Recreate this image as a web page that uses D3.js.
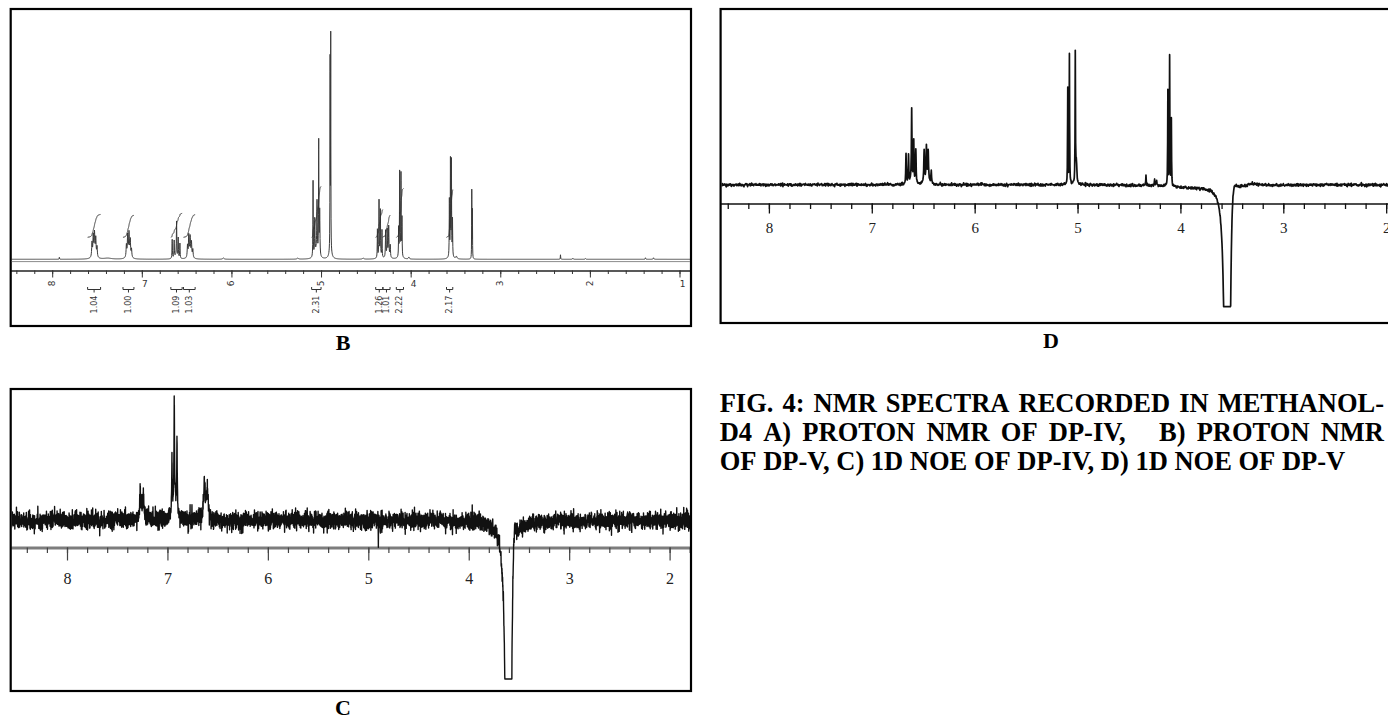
<!DOCTYPE html>
<html>
<head>
<meta charset="utf-8">
<script src="https://cdnjs.cloudflare.com/ajax/libs/d3/7.8.5/d3.min.js"></script>
<style>
  html, body { margin: 0; padding: 0; background: #fff; }
  svg { display: block; }
</style>
</head>
<body>
<svg id="fig" width="1388" height="719"></svg>
<script>
// ---------------------------------------------------------------
// Peak lists: [chemical shift (ppm), intensity, half-width (ppm)]
// ---------------------------------------------------------------

// B) 1H NMR of DP-V (methanol-d4)
const peaksB = [
  [7.92, 2, 0.002],
  [7.556, 14, 0.004], [7.542, 19, 0.004], [7.528, 20, 0.004], [7.514, 17, 0.004], [7.50, 10, 0.004],
  [7.53, 6, 0.02], [7.38, 1, 0.05],
  [7.172, 12, 0.004], [7.158, 20, 0.004], [7.143, 21, 0.004], [7.129, 16, 0.004], [7.115, 8, 0.004],
  [7.145, 5, 0.02],
  [6.661, 19, 0.0025], [6.639, 17, 0.0025], [6.612, 35, 0.0025], [6.594, 20, 0.0025], [6.575, 15, 0.0025],
  [6.62, 3, 0.02],
  [6.49, 12, 0.004], [6.476, 21, 0.004], [6.461, 18, 0.004], [6.446, 14, 0.004], [6.431, 8, 0.004],
  [6.46, 4, 0.02],
  [6.09, 1.2, 0.01], [5.26, 1, 0.01],
  [5.089, 76, 0.002], [5.07, 36, 0.003], [5.045, 50, 0.003], [5.026, 113, 0.002], [5.015, 45, 0.003],
  [5.05, 8, 0.02],
  [4.899, 188, 0.0015], [4.892, 212, 0.0015], [4.895, 8, 0.015],
  [4.53, 1, 0.01],
  [4.371, 28, 0.002], [4.353, 54, 0.002], [4.338, 44, 0.002], [4.32, 27, 0.002], [4.345, 6, 0.015],
  [4.279, 27, 0.003], [4.262, 26, 0.003], [4.245, 28, 0.003], [4.228, 12, 0.003], [4.25, 5, 0.015],
  [4.134, 28, 0.002], [4.123, 82, 0.002], [4.108, 80, 0.002], [4.097, 38, 0.002], [4.115, 6, 0.015],
  [4.02, 2, 0.006],
  [3.568, 56, 0.002], [3.556, 93, 0.002], [3.545, 92, 0.002], [3.533, 36, 0.002], [3.55, 6, 0.015],
  [3.49, 2.5, 0.008],
  [3.318, 68, 0.0015], [3.311, 48, 0.0015],
  [2.328, 4.5, 0.002], [2.19, 1, 0.004], [2.05, 0.8, 0.004],
  [1.38, 1.5, 0.003], [1.29, 1.5, 0.004]
];

// integration regions of B: [from ppm, to ppm]
const integralRangesB = [
  [7.605, 7.46], [7.21, 7.088], [6.676, 6.55], [6.535, 6.405], [5.105, 5.0],
  [4.39, 4.31], [4.31, 4.23], [4.16, 4.08], [3.60, 3.53]
];
const integralValuesB = [1.04, 1.00, 1.09, 1.03, 2.31, 1.26, 1.01, 2.22, 2.17];

// C) 1D NOE of DP-IV
const peaksC = [
  [7.272, 24, 0.004], [7.24, 14, 0.004], [7.255, 14, 0.025],
  [6.955, 50, 0.003], [6.932, 100, 0.003], [6.905, 72, 0.003], [6.93, 20, 0.025],
  [6.632, 26, 0.008], [6.602, 22, 0.008], [6.617, 12, 0.025],
  [4.90, -30, 0.001],
  [3.605, -6000, 0.006], [3.55, 50, 0.025]
];

// D) 1D NOE of DP-V
const peaksD = [
  [6.667, 30, 0.003], [6.643, 28, 0.003], [6.612, 72, 0.003], [6.592, 42, 0.003], [6.572, 34, 0.003],
  [6.62, 4, 0.02],
  [6.491, 33, 0.004], [6.469, 34, 0.004], [6.452, 30, 0.004], [6.422, 12, 0.004], [6.46, 4, 0.02],
  [5.095, 95, 0.002], [5.079, 130, 0.002], [5.022, 128, 0.002], [5.012, 22, 0.006],
  [4.335, 10, 0.003], [4.25, 5, 0.004], [4.232, 5, 0.004],
  [4.122, 95, 0.002], [4.105, 130, 0.002], [4.088, 66, 0.002],
  [3.9, -2.5, 0.2],
  [3.544, -5000, 0.006], [3.50, 50, 0.04], [3.30, 2.5, 0.05]
];

// axis tick values (ppm)
const majorTicksB = [8, 7, 6, 5, 4, 3, 2, 1];
const majorTicksC = [8, 7, 6, 5, 4, 3, 2];
const majorTicksD = [8, 7, 6, 5, 4, 3, 2];
const uprightLabelsB = ["7", "4", "1"];

const panelLetters = ["B", "D", "C"];
const captionLines = [
  "FIG. 4: NMR SPECTRA RECORDED IN METHANOL-",
  "D4 A) PROTON NMR OF DP-IV,   B) PROTON NMR",
  "OF DP-V, C) 1D NOE OF DP-IV, D) 1D NOE OF DP-V"
];

// ---------------------------------------------------------------
// helpers
// ---------------------------------------------------------------
const svg = d3.select("#fig");
const defs = svg.append("defs");

function mulberry32(a) {
  return function () {
    a |= 0; a = a + 0x6D2B79F5 | 0;
    let t = Math.imul(a ^ a >>> 15, 1 | a);
    t = t + Math.imul(t ^ t >>> 7, 61 | t) ^ t;
    return ((t ^ t >>> 14) >>> 0) / 4294967296;
  };
}

function makeGauss(seed) {
  const r = mulberry32(seed);
  return () => {
    const u = Math.max(r(), 1e-9), v = r();
    return Math.sqrt(-2 * Math.log(u)) * Math.cos(2 * Math.PI * v);
  };
}

function lineshape(peaks, p) {
  let s = 0;
  for (const [c, h, w] of peaks) {
    const d = (p - c) / w;
    s += h / (1 + d * d);
  }
  return s;
}

function drawPanel(cfg) {
  const g = svg.append("g");
  const b = cfg.box;

  // ppm scale, calibrated on two reference ticks and stretched to the frame edges
  const ref = d3.scaleLinear().domain(cfg.ppmRef).range(cfg.pxRef);
  const x = d3.scaleLinear()
    .domain([ref.invert(b.x0), ref.invert(b.x1)])
    .range([b.x0, b.x1]);
  const y = d3.scaleLinear().domain([0, 100]).range([cfg.baseY, cfg.baseY - 100]);

  const clipId = "clip" + cfg.id;
  defs.append("clipPath").attr("id", clipId)
    .append("rect")
    .attr("x", b.x0 + 1).attr("y", b.y0 + 1)
    .attr("width", b.x1 - b.x0 - 2).attr("height", b.y1 - b.y0 - 2);

  // sample points: uniform in pixels plus every peak centre
  const [pL, pR] = x.domain();
  const n = Math.round((b.x1 - b.x0) * cfg.perPx);
  const ppms = d3.range(n + 1).map(i => pL + (pR - pL) * i / n);
  cfg.peaks.forEach(([c]) => { if (c < pL && c > pR) ppms.push(c); });
  ppms.sort((a, c) => c - a);

  const gauss = makeGauss(cfg.seed);
  const pts = ppms.map(p => {
    let v = lineshape(cfg.peaks, p) + (cfg.noise ? gauss() * cfg.noise : 0);
    if (cfg.floor !== undefined) v = Math.max(v, cfg.floor);
    return [p, v];
  });

  // axis
  const axG = g.append("g").attr("transform", `translate(0,${cfg.axisY})`);
  const minor = d3.range(Math.floor(pL * 5) / 5, pR, -0.2).filter(v => v <= pL && v >= pR);
  axG.append("g")
    .call(d3.axisBottom(x).tickValues(minor).tickSize(cfg.minorLen).tickSizeOuter(0).tickFormat(""))
    .call(s => s.select(".domain").attr("stroke", cfg.axisColor).attr("stroke-width", cfg.axisWidth))
    .call(s => s.selectAll(".tick line").attr("stroke", cfg.tickColor).attr("stroke-width", cfg.tickWidth));
  const majG = axG.append("g")
    .call(d3.axisBottom(x).tickValues(cfg.majorTicks).tickSize(cfg.majorLen).tickSizeOuter(0)
      .tickFormat(cfg.rotatedLabels ? "" : d3.format("d")))
    .call(s => s.select(".domain").remove())
    .call(s => s.selectAll(".tick line").attr("stroke", cfg.tickColor).attr("stroke-width", cfg.tickWidth));
  if (!cfg.rotatedLabels) {
    majG.selectAll(".tick text")
      .attr("y", cfg.labelY - cfg.axisY).attr("dy", "0.36em")
      .attr("font-family", cfg.labelFont).attr("font-size", cfg.labelSize)
      .attr("fill", "#222");
  }

  // spectrum trace
  g.append("path")
    .datum(pts)
    .attr("clip-path", `url(#${clipId})`)
    .attr("fill", "none")
    .attr("stroke", cfg.traceColor)
    .attr("stroke-width", cfg.traceWidth)
    .attr("stroke-linejoin", "round")
    .attr("d", d3.line().x(d => x(d[0])).y(d => y(d[1])));

  // frame
  g.append("rect")
    .attr("x", b.x0).attr("y", b.y0)
    .attr("width", b.x1 - b.x0).attr("height", b.y1 - b.y0)
    .attr("fill", "none").attr("stroke", "#000").attr("stroke-width", 2.2);

  return { g, x, y };
}

// ---------------------------------------------------------------
// B: proton spectrum with integrals
// ---------------------------------------------------------------
const B = drawPanel({
  id: "B", box: { x0: 10.7, x1: 691, y0: 9, y1: 326 },
  ppmRef: [8, 1], pxRef: [52.2, 679.5], baseY: 259.3,
  peaks: peaksB, perPx: 5, seed: 11, noise: 0,
  axisY: 270.5, minorLen: 3.5, majorLen: 7, majorTicks: majorTicksB,
  axisColor: "#222", axisWidth: 1.3, tickColor: "#333", tickWidth: 1,
  rotatedLabels: true, traceColor: "#3a3a3a", traceWidth: 1
});

// reference line just under the baseline
B.g.append("line")
  .attr("x1", 11.8).attr("x2", 690).attr("y1", 261.6).attr("y2", 261.6)
  .attr("stroke", "#8c8c8c").attr("stroke-width", 1);

// ppm labels
B.g.selectAll("text.ppm")
  .data(majorTicksB)
  .join("text")
  .attr("class", "ppm")
  .attr("font-family", "DejaVu Sans").attr("font-size", 9).attr("fill", "#333")
  .attr("text-anchor", "middle").attr("dominant-baseline", "central")
  .attr("transform", d => uprightLabelsB.includes(String(d))
    ? `translate(${B.x(d) + 3},${284})`
    : `translate(${B.x(d)},${283.5}) rotate(-90)`)
  .text(d => String(d));

// integral curves, brackets and values
const integralBase = 22;     // starting level of each integral trace
const integralUnit = 22;     // rise per integral unit
integralRangesB.forEach(([p0, p1], i) => {
  const val = integralValuesB[i];
  const m = 400;
  const ps = d3.range(m + 1).map(k => p0 - (p0 - p1) * k / m);
  const vs = ps.map(p => Math.max(0, lineshape(peaksB, p)));
  const tot = d3.sum(vs);
  let cum = 0;
  const ipts = ps.map((p, k) => { cum += vs[k]; return [p, integralBase + cum / tot * val * integralUnit]; });
  B.g.append("path")
    .datum(ipts)
    .attr("fill", "none").attr("stroke", "#333").attr("stroke-width", 1)
    .attr("d", d3.line().x(d => B.x(d[0])).y(d => B.y(d[1])));

  const xa = B.x(p0), xb = B.x(p1), xm = (xa + xb) / 2;
  B.g.append("path")
    .attr("fill", "none").attr("stroke", "#333").attr("stroke-width", 1)
    .attr("d", `M${xa},287 V289.5 H${xb} V287 M${xm},289.5 V292.5`);
  B.g.append("text")
    .attr("font-family", "DejaVu Sans").attr("font-size", 8).attr("fill", "#333")
    .attr("text-anchor", "middle").attr("dominant-baseline", "central")
    .attr("transform", `translate(${xm},${304.5}) rotate(-90)`)
    .text(val.toFixed(2));
});

// ---------------------------------------------------------------
// C: 1D NOE of DP-IV
// ---------------------------------------------------------------
drawPanel({
  id: "C", box: { x0: 10.7, x1: 691, y0: 389, y1: 691 },
  ppmRef: [8, 2], pxRef: [67, 669.6], baseY: 520.3,
  peaks: peaksC, perPx: 8, seed: 7, noise: 4.3, floor: -158.7,
  axisY: 547.5, minorLen: 5.5, majorLen: 13, majorTicks: majorTicksC,
  axisColor: "#7d7d7d", axisWidth: 3.2, tickColor: "#444", tickWidth: 1.2,
  labelY: 578, labelFont: "Liberation Serif", labelSize: 16,
  traceColor: "#111", traceWidth: 1.4
});

// ---------------------------------------------------------------
// D: 1D NOE of DP-V
// ---------------------------------------------------------------
drawPanel({
  id: "D", box: { x0: 720.6, x1: 1400, y0: 9, y1: 323 },
  ppmRef: [8, 3], pxRef: [768.9, 1283.3], baseY: 184.7,
  peaks: peaksD, perPx: 3, seed: 3, noise: 0.7, floor: -122,
  axisY: 203.5, minorLen: 5.5, majorLen: 10, majorTicks: majorTicksD,
  axisColor: "#111", axisWidth: 1.5, tickColor: "#111", tickWidth: 1.3,
  labelY: 228, labelFont: "Liberation Serif", labelSize: 15,
  traceColor: "#111", traceWidth: 1.7
});

// ---------------------------------------------------------------
// panel letters
// ---------------------------------------------------------------
const letterPos = { B: [343, 350], D: [1051, 348.3], C: [343, 715] };
svg.selectAll("text.letter")
  .data(panelLetters)
  .join("text")
  .attr("class", "letter")
  .attr("x", d => letterPos[d][0]).attr("y", d => letterPos[d][1])
  .attr("text-anchor", "middle")
  .attr("font-family", "Liberation Serif").attr("font-weight", "bold").attr("font-size", 22)
  .text(d => d);

// ---------------------------------------------------------------
// caption (first two lines justified)
// ---------------------------------------------------------------
const capX = 719.7, capW = 664.3;
const capBaselines = [411.5, 441, 470];
const capG = svg.append("g")
  .attr("font-family", "Liberation Serif").attr("font-weight", "bold").attr("font-size", 26.5)
  .attr("fill", "#000");
const spaceProbe = capG.append("text").text("a a");
const probeA = capG.append("text").text("aa");
const spaceW = spaceProbe.node().getComputedTextLength() - probeA.node().getComputedTextLength();
spaceProbe.remove(); probeA.remove();

captionLines.forEach((line, i) => {
  const parts = line.split(/( +)/);
  const words = parts.filter((_, k) => k % 2 === 0);
  const gaps = parts.filter((_, k) => k % 2 === 1).map(s => s.length);
  const nodes = words.map(w => capG.append("text").attr("y", capBaselines[i]).text(w));
  const widths = nodes.map(nd => nd.node().getComputedTextLength());
  const unit = i < 2 ? (capW - d3.sum(widths)) / d3.sum(gaps) : spaceW;
  let xp = capX;
  nodes.forEach((nd, k) => {
    nd.attr("x", xp);
    xp += widths[k] + (gaps[k] || 0) * unit;
  });
});
</script>
</body>
</html>
